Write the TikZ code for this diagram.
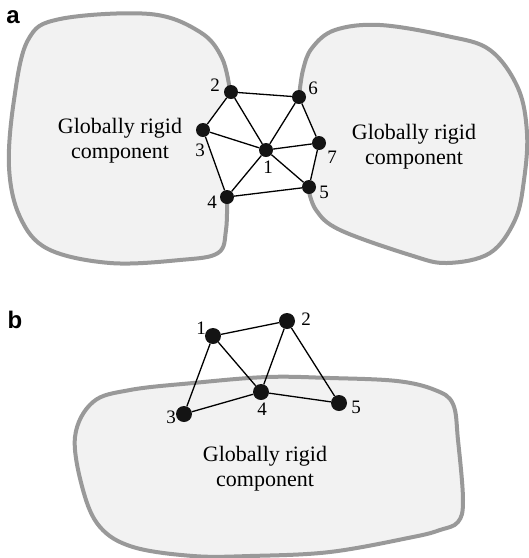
\documentclass[tikz,border=0pt]{standalone}
\usepackage{fontspec}
\setmainfont{Liberation Serif}
\newfontfamily\panelfont{Liberation Sans}
\begin{document}
\begin{tikzpicture}[x=1pt,y=-1pt,
  blob/.style={draw=black!40, line width=4pt, line join=round, line cap=round},
  blobfill/.style={fill=black!5},
  dot/.style={circle, fill=black!92, inner sep=0pt, minimum size=14pt},
  bigdot/.style={circle, fill=black!92, inner sep=0pt, minimum size=16pt},
  edge/.style={draw=black, line width=1.3pt},
  num/.style={font=\fontsize{19}{19}\selectfont, inner sep=0pt},
  comp/.style={font=\fontsize{22}{25}\selectfont, align=center, inner sep=0pt},
  panel/.style={font=\panelfont\bfseries\fontsize{24}{24}\selectfont, inner sep=0pt}]
\useasboundingbox (0,0) rectangle (529,558);

% ---------- panel a ----------
\node[panel] (pa) at (13,17) {a};

% left component: filled region closed by the chain 2-3-4
\fill[blobfill] plot[smooth, tension=0.6] coordinates {
  (227,197) (226,230) (218,253) (180,260) (110,263) (48,249) (20,217)
  (9,167) (14,100) (28,40) (60,19) (150,14) (200,32) (222,58) (230,91)}
  -- (203,130) -- cycle;
\draw[blob] plot[smooth, tension=0.6] coordinates {
  (227,197) (226,230) (218,253) (180,260) (110,263) (48,249) (20,217)
  (9,167) (14,100) (28,40) (60,19) (150,14) (200,32) (222,58) (230,91)};

% right component: filled region closed by the chain 6-7-5
\fill[blobfill] plot[smooth, tension=0.6] coordinates {
  (308,187) (316,210) (340,230) (410,255) (447,263) (490,253)
  (515,220) (524,180) (527,133) (518,88) (490,50) (447,36)
  (380,25) (335,30) (312,48) (303,70) (299,97)}
  -- (319,143) -- cycle;
\draw[blob] plot[smooth, tension=0.6] coordinates {
  (308,187) (316,210) (340,230) (410,255) (447,263) (490,253)
  (515,220) (524,180) (527,133) (518,88) (490,50) (447,36)
  (380,25) (335,30) (312,48) (303,70) (299,97)};

\node[comp] (ca) at (120,141) {Globally rigid\\component};
\node[comp] (cb) at (414,147) {Globally rigid\\component};

\node[dot] (a1) at (266,150) {};
\node[dot] (a2) at (231,92) {};
\node[dot] (a3) at (203,130) {};
\node[dot] (a4) at (227,197) {};
\node[dot] (a5) at (309,187) {};
\node[dot] (a6) at (299,97) {};
\node[dot] (a7) at (319,143) {};

\draw[edge] (a2) -- (a6);
\draw[edge] (a2) -- (a3);
\draw[edge] (a2) -- (a1);
\draw[edge] (a3) -- (a1);
\draw[edge] (a3) -- (a4);
\draw[edge] (a4) -- (a1);
\draw[edge] (a4) -- (a5);
\draw[edge] (a1) -- (a6);
\draw[edge] (a1) -- (a7);
\draw[edge] (a1) -- (a5);
\draw[edge] (a6) -- (a7);
\draw[edge] (a7) -- (a5);

\node[num] (la1) at (268,167) {1};
\node[num] (la2) at (215,85) {2};
\node[num] (la3) at (200,150) {3};
\node[num] (la4) at (212,202) {4};
\node[num] (la5) at (324,192) {5};
\node[num] (la6) at (313,88) {6};
\node[num] (la7) at (332,157) {7};

% ---------- panel b ----------
\node[panel] (pb) at (15,320) {b};

\filldraw[blobfill, blob] plot[smooth cycle, tension=0.6] coordinates {
  (75,437) (93,402) (130,390) (193,383) (267,377) (330,378) (397,381)
  (435,390) (453,404) (458,440) (463,500) (458,522) (440,530)
  (413,537) (330,552) (250,556) (193,556) (133,547) (100,527) (83,490)};

\node[comp] (cc) at (265,469) {Globally rigid\\component};

\node[bigdot] (b1) at (213,336) {};
\node[bigdot] (b2) at (287,321) {};
\node[bigdot] (b3) at (184,414) {};
\node[bigdot] (b4) at (261,392) {};
\node[bigdot] (b5) at (339,403) {};

\draw[edge] (b1) -- (b2);
\draw[edge] (b1) -- (b3);
\draw[edge] (b1) -- (b4);
\draw[edge] (b2) -- (b4);
\draw[edge] (b2) -- (b5);
\draw[edge] (b3) -- (b4);
\draw[edge] (b4) -- (b5);

\node[num] (lb1) at (201,328) {1};
\node[num] (lb2) at (306,319) {2};
\node[num] (lb3) at (171,417) {3};
\node[num] (lb4) at (262,409) {4};
\node[num] (lb5) at (356,407) {5};
\end{tikzpicture}
\end{document}
